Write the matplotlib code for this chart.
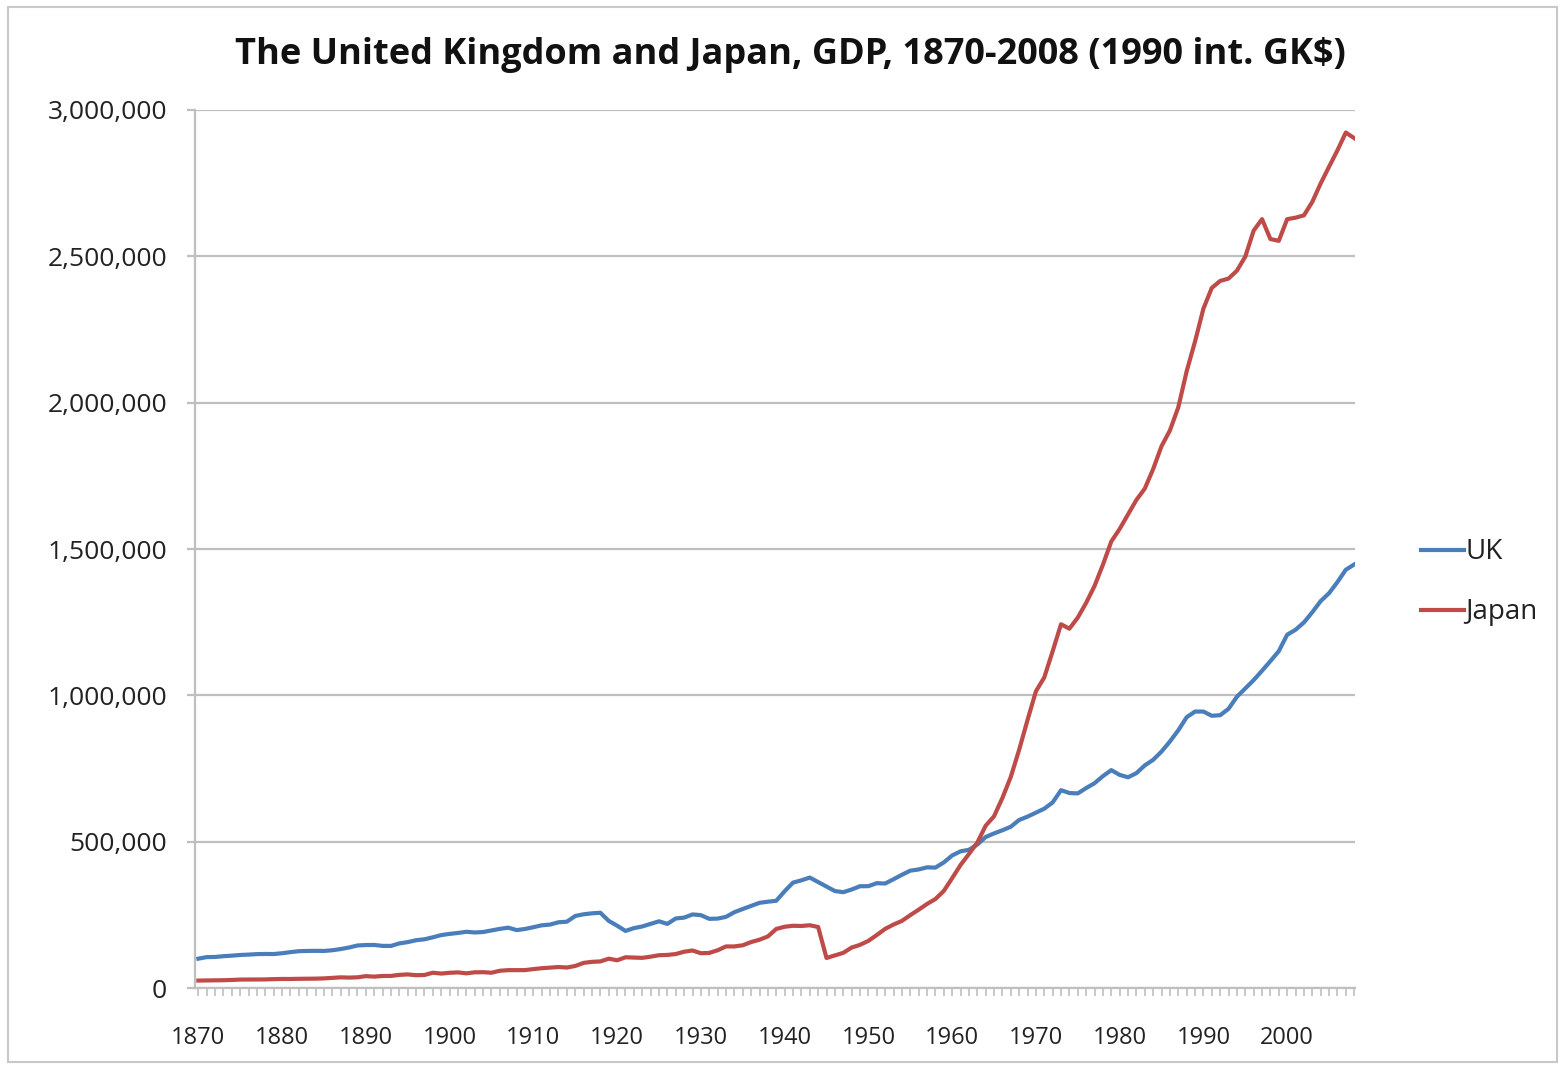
import matplotlib.pyplot as plt
import matplotlib.ticker as mticker
from matplotlib.patches import Rectangle

years = list(range(1870, 2009))

# GDP, thousands of 1990 int. GK$
uk = [100.2, 105.6, 106.0, 108.7, 110.5, 112.8, 114.1, 115.8, 116.3, 116.0,
      118.8, 122.6, 125.8, 126.6, 127.0, 126.6, 129.0, 133.1, 138.4, 145.3,
      146.8, 147.1, 143.9, 143.8, 152.4, 156.8, 163.3, 166.4, 173.2, 180.8,
      184.9, 188.1, 192.1, 189.7, 191.3, 196.5, 202.0, 206.2, 197.8, 201.7,
      207.7, 214.2, 216.7, 224.6, 226.5, 246.1, 251.9, 255.2, 257.1, 229.3,
      212.9, 195.0, 204.6, 210.3, 219.1, 227.9, 219.0, 237.6, 240.5, 251.3,
      249.0, 236.3, 237.1, 243.1, 259.0, 270.0, 280.5, 291.0, 294.9, 298.0,
      330.6, 360.1, 367.9, 377.3, 362.0, 347.0, 331.3, 327.4, 336.5, 347.8,
      347.9, 358.2, 357.0, 371.6, 386.8, 400.9, 405.0, 412.3, 411.4, 428.9,
      452.8, 467.0, 472.1, 490.0, 515.8, 528.2, 538.9, 551.0, 574.1, 585.5,
      599.0, 612.7, 634.0, 675.9, 666.2, 664.9, 683.1, 699.7, 723.9, 744.5,
      728.2, 720.0, 734.1, 760.6, 779.7, 808.0, 842.2, 880.5, 925.1, 944.6,
      944.6, 930.2, 932.1, 953.9, 995.1, 1023.7, 1052.0, 1084.0, 1117.0, 1151.0,
      1207.0, 1224.0, 1249.0, 1284.0, 1322.0, 1349.0, 1387.0, 1429.0, 1447.0]

japan = [25.4, 25.7, 26.1, 26.6, 27.5, 28.8, 28.9, 29.1, 29.3, 30.3,
         30.9, 30.8, 31.4, 31.6, 32.0, 32.8, 34.7, 36.4, 35.5, 36.5,
         40.6, 38.8, 41.1, 41.3, 44.9, 46.4, 43.7, 44.5, 52.2, 49.3,
         52.0, 53.3, 50.1, 53.6, 54.0, 52.2, 58.9, 61.0, 61.2, 61.1,
         64.6, 67.6, 69.6, 71.7, 69.9, 75.3, 85.8, 89.4, 90.8, 100.2,
         94.7, 105.0, 104.0, 103.0, 107.0, 112.0, 113.0, 116.0, 124.0, 128.1,
         118.8, 119.8, 129.0, 142.0, 142.0, 146.0, 157.0, 165.0, 176.1, 201.8,
         209.3, 212.6, 211.9, 214.4, 208.5, 102.6, 111.5, 120.1, 138.2, 147.5,
         161.0, 181.0, 202.0, 216.9, 229.2, 248.9, 267.6, 287.1, 303.9, 331.6,
         375.1, 420.2, 457.7, 496.5, 554.4, 586.7, 649.2, 721.1, 814.0, 915.6,
         1013.6, 1061.2, 1150.5, 1242.9, 1227.7, 1265.7, 1316.0, 1373.7, 1446.2, 1525.5,
         1568.5, 1618.2, 1667.7, 1706.4, 1773.2, 1851.3, 1904.9, 1984.1, 2107.1, 2208.9,
         2321.2, 2392.0, 2416.0, 2424.0, 2451.0, 2499.0, 2588.0, 2627.0, 2559.0, 2553.0,
         2627.0, 2632.0, 2640.0, 2686.0, 2749.0, 2806.0, 2862.0, 2923.0, 2904.0]

label_years = list(range(1870, 2001, 10))

plt.rcParams['font.family'] = ['Open Sans', 'DejaVu Sans']

fig = plt.figure(figsize=(15.61, 10.67), dpi=100)
ax = fig.add_axes([195 / 1561, 1 - 988 / 1067, 1160 / 1561, 878 / 1067])

# outer chart frame
fig.patches.append(Rectangle((8 / 1561, 1 - 1062 / 1067), 1549 / 1561, 1055 / 1067,
                             transform=fig.transFigure, fill=False,
                             edgecolor='#c8c8c8', linewidth=1.5))

ax.plot(years, [v * 1000 for v in uk], color='#4a7ebb', linewidth=3.0, label='UK')
ax.plot(years, [v * 1000 for v in japan], color='#be4b48', linewidth=3.0, label='Japan')

ax.set_xlim(1869.6, 2008.1)
ax.set_ylim(0, 3000000)
ax.set_yticks(range(0, 3000001, 500000))
ax.yaxis.set_major_formatter(mticker.FuncFormatter(lambda v, p: f'{int(v):,}'))
ax.set_xticks(label_years)
ax.set_xticks(years, minor=True)
ax.grid(axis='y', color='#bfbfbf', linewidth=1.6)
ax.set_axisbelow(True)

for s in ['top', 'right']:
    ax.spines[s].set_visible(False)
for s in ['left', 'bottom']:
    ax.spines[s].set_color('#bfbfbf')
    ax.spines[s].set_linewidth(1.6)

ax.tick_params(axis='y', length=6, width=1.6, color='#bfbfbf', pad=14,
               labelsize=19, labelcolor='#222222')
ax.tick_params(axis='x', which='major', length=6, width=1.2, color='#bfbfbf',
               pad=21, labelsize=17, labelcolor='#222222')
ax.tick_params(axis='x', which='minor', length=6, width=1.2, color='#bfbfbf')

fig.text(790 / 1561, 1 - 55 / 1067,
         'The United Kingdom and Japan, GDP, 1870-2008 (1990 int. GK$)',
         ha='center', va='center', fontsize=26, fontweight='bold', color='#111111')

ax.legend(loc='center left', bbox_to_anchor=(1.035, 0.462), frameon=False,
          fontsize=20, handlelength=1.55, handletextpad=0.05, labelspacing=1.15,
          labelcolor='#222222')

plt.savefig('out.png', dpi=100)
